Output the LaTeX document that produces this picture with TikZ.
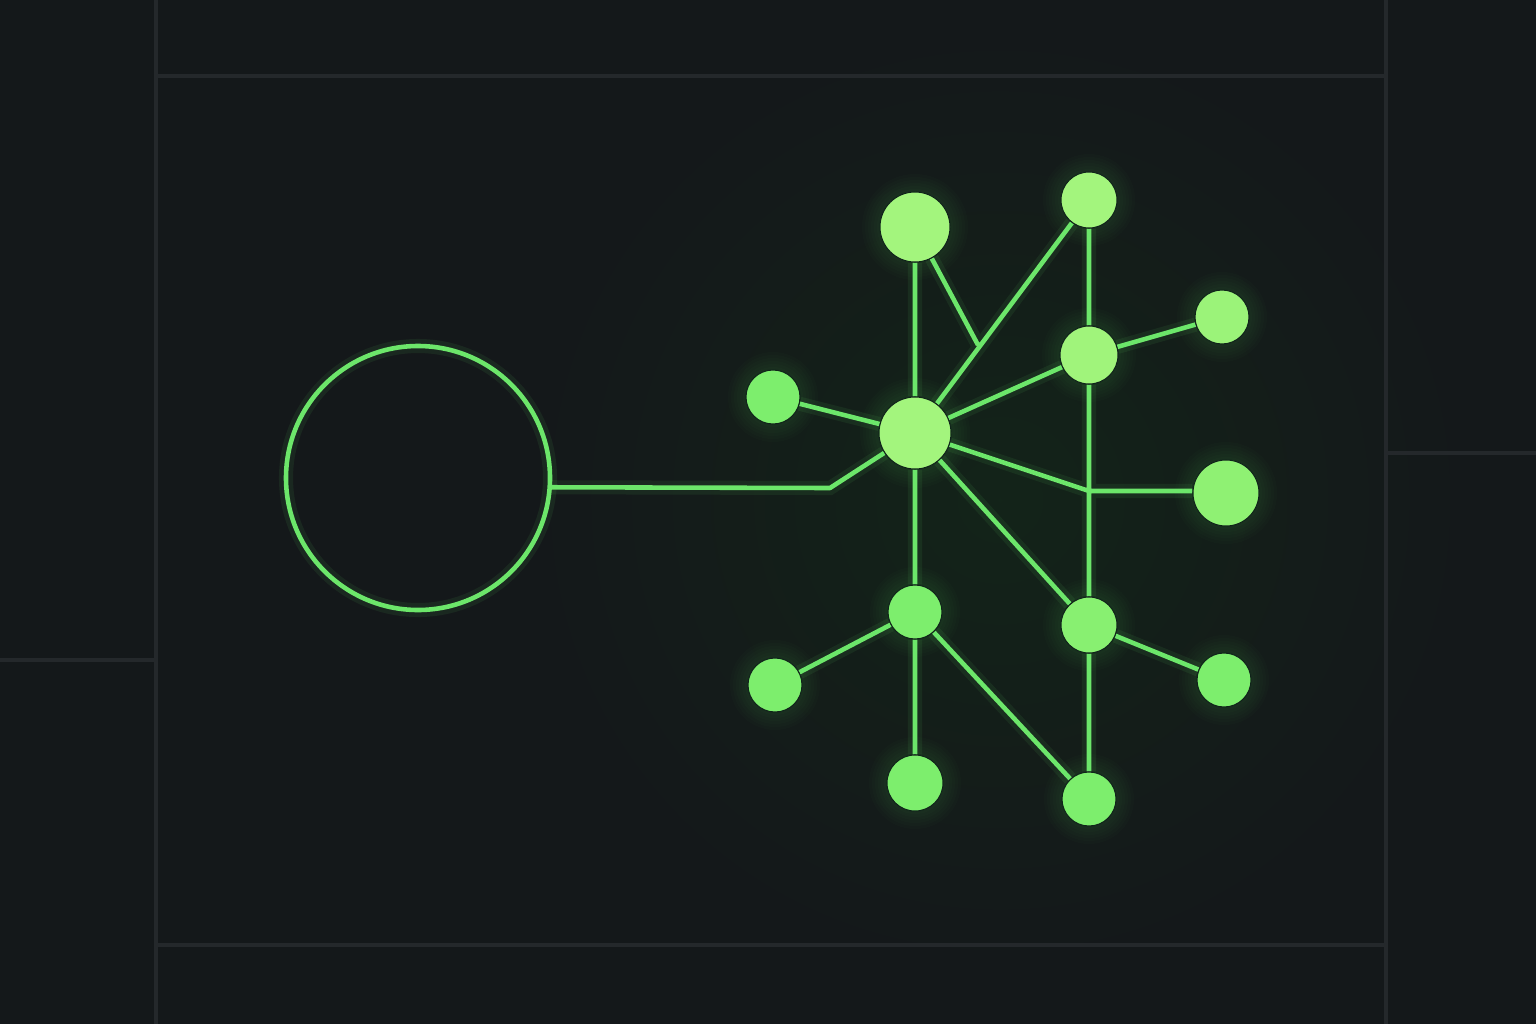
\documentclass[tikz,border=0pt]{standalone}
\usetikzlibrary{backgrounds}
\definecolor{bg}{HTML}{14181A}
\definecolor{seam}{HTML}{24282B}
\definecolor{wirec}{HTML}{6CE66A}
\definecolor{hot}{HTML}{A3F57D}
\definecolor{mid}{HTML}{8FF173}
\definecolor{cool}{HTML}{7DEE6D}
\definecolor{rim}{HTML}{10241A}
\tikzset{
dot/.style={circle,inner sep=0pt,minimum size=#1*0.02cm,draw=rim,line width=0.3pt},
wire/.style={draw=wirec,line width=1.3pt,line join=round,
  preaction={draw=wirec,line width=4pt,opacity=0.08}},
panel/.style={draw=seam,line width=0.9pt}}
\begin{document}
\begin{tikzpicture}[x=0.01cm,y=-0.01cm]
\useasboundingbox (0,0) rectangle (1536,1024);
\node[dot=36,fill=hot] (H) at (915,433) {};
\node[dot=35,fill=hot] (A) at (915,227) {};
\node[dot=28,fill=hot] (B) at (1089,200) {};
\node[dot=29,fill=hot!85!mid] (C) at (1089,355) {};
\node[dot=27,fill=hot!60!mid] (D) at (1222,317) {};
\node[dot=27,fill=cool] (E) at (773,397) {};
\node[dot=33,fill=mid] (F) at (1226,493) {};
\node[dot=27,fill=cool] (G) at (915,612) {};
\node[dot=28,fill=mid!60!cool] (I) at (1089,625) {};
\node[dot=27,fill=cool] (J) at (775,685) {};
\node[dot=27,fill=cool] (K) at (1224,680) {};
\node[dot=28,fill=cool] (L) at (915,783) {};
\node[dot=27,fill=cool] (M) at (1089,799) {};
\node[circle,inner sep=0pt,minimum size=2.64cm] (ring) at (418,478) {};
\coordinate (jab) at (978,345);
\coordinate (jf) at (1089,491);
\coordinate (kink) at (830,488);
\begin{pgfonlayer}{background}
\fill[bg] (0,0) rectangle (1536,1024);
\shade[inner color=green!5!bg,outer color=bg] (1000,500) circle (470);
\draw[panel] (156,0) -- (156,1024) (1386,0) -- (1386,1024);
\draw[panel] (157,76) -- (1385,76) (157,945) -- (1385,945);
\draw[panel] (0,660) -- (155,660) (1387,453) -- (1536,453);
\foreach \n/\r in {H/37,A/35,B/28,C/29,D/27,E/27,F/33,G/27,I/28,J/27,K/27,L/28,M/27}
  \foreach \k in {1,...,6}
    \fill[wirec,opacity=0.018] (\n) circle ({\r+3*\k});
\draw[wire] (ring) circle (132);
\draw[wire] (ring.-4) -- (kink) -- (H);
\draw[wire] (A) -- (H) (A) -- (jab) (H) -- (B) (B) -- (C) (C) -- (D);
\draw[wire] (H) -- (C) (E) -- (H) (H) -- (jf) -- (jf -| F.west) (C) -- (I);
\draw[wire] (H) -- (G) (H) -- (I) (G) -- (J) (G) -- (L) (G) -- (M);
\draw[wire] (I) -- (K) (I) -- (M);
\end{pgfonlayer}
\end{tikzpicture}
\end{document}
